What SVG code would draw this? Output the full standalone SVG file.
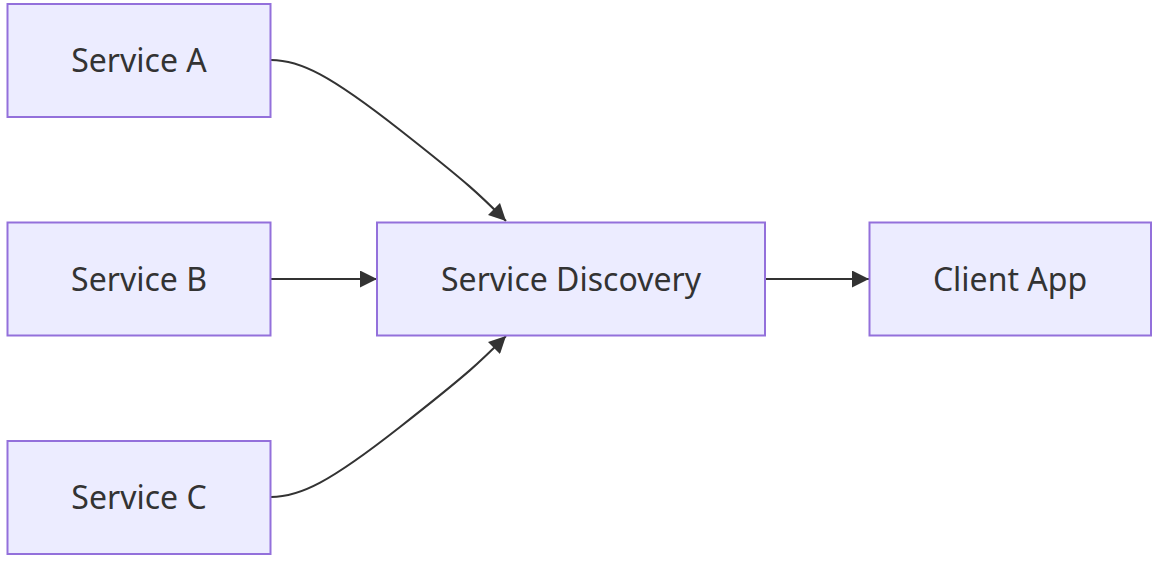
<svg xmlns="http://www.w3.org/2000/svg" width="1154" height="562" viewBox="0 0 1154 562">
<style>
.node rect{fill:#ECECFF;stroke:#9370DB;stroke-width:2}
.node text{font-family:"Noto Sans","DejaVu Sans",sans-serif;font-size:32px;fill:#333;text-anchor:middle;dominant-baseline:central}
.edge{fill:none;stroke:#333;stroke-width:2}
</style>
<defs>
<marker id="arr" viewBox="0 0 10 10" refX="10" refY="5" markerUnits="userSpaceOnUse" markerWidth="17" markerHeight="17" orient="auto">
<path d="M0,0 L10,5 L0,10 z" fill="#333"/>
</marker>
</defs>
<rect width="1154" height="562" fill="#fff"/>
<g id="connectors">
<path class="edge" d="M271,60 C300,60 330,75 400,130 S480,195 506,221" marker-end="url(#arr)"/>
<path class="edge" d="M271,279 L377,279" marker-end="url(#arr)"/>
<path class="edge" d="M271,497 C300,497 330,482 400,427 S480,362 506,336" marker-end="url(#arr)"/>
<path class="edge" d="M765,279 L869,279" marker-end="url(#arr)"/>
</g>
<g id="serviceA" class="node"><rect x="7.5" y="4" width="263" height="113"/><text x="139" y="59">Service A</text></g>
<g id="serviceB" class="node"><rect x="7.5" y="222.5" width="263" height="113"/><text x="139" y="278">Service B</text></g>
<g id="serviceC" class="node"><rect x="7.5" y="441" width="263" height="113"/><text x="139" y="496">Service C</text></g>
<g id="discovery" class="node"><rect x="377" y="222.5" width="388" height="113"/><text x="571" y="278">Service Discovery</text></g>
<g id="client" class="node"><rect x="869.5" y="222.5" width="281.5" height="113"/><text x="1010" y="278">Client App</text></g>
</svg>
